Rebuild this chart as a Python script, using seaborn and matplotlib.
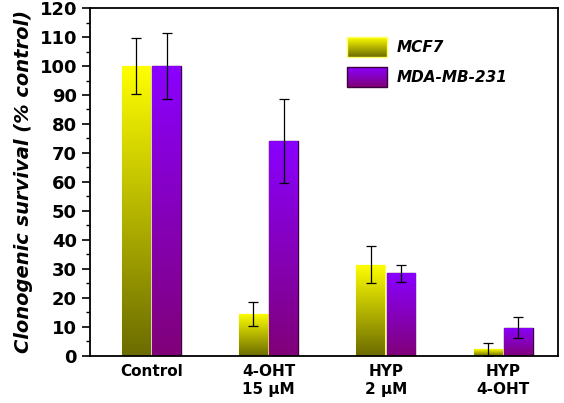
import numpy as np
import pandas as pd
import seaborn as sns
import matplotlib.pyplot as plt
from matplotlib.ticker import MultipleLocator
from matplotlib.colors import LinearSegmentedColormap

# data
groups = ['Control', '4-OHT\n15 \u03bcM', 'HYP\n2 \u03bcM', 'HYP\n4-OHT']
cells = ['MCF7', 'MDA-MB-231']
mcf7 = [100, 14.5, 31.5, 2.2]
mcf7_err = [9.7, 4.1, 6.5, 2.2]
mda = [100, 74, 28.5, 9.7]
mda_err = [11.5, 14.5, 3.0, 3.7]

df = pd.DataFrame({
    'group': groups * 2,
    'cell': [cells[0]] * 4 + [cells[1]] * 4,
    'val': mcf7 + mda,
})

sns.set_style('white')
plt.rcParams['font.family'] = ['DejaVu Sans']
plt.rcParams['font.weight'] = 'bold'
plt.rcParams['text.color'] = 'black'
plt.rcParams['axes.labelcolor'] = 'black'
plt.rcParams['xtick.color'] = 'black'
plt.rcParams['ytick.color'] = 'black'

fig = plt.figure(figsize=(5.64, 4.03), dpi=100)
ax = fig.add_axes([0.16, 0.117, 0.83, 0.863])

sns.barplot(data=df, x='group', y='val', hue='cell', hue_order=cells,
            palette=['#ffff00', '#8000ff'], width=0.52, gap=0.06,
            errorbar=None, ax=ax, legend=False)

# gradient fills (top bright -> bottom dark)
grads = [LinearSegmentedColormap.from_list('y', ['#6b6b00', '#ffff00']),
         LinearSegmentedColormap.from_list('p', ['#800078', '#8a00ff'])]
edges = ['#ffff60', '#3a003a']
grad = np.linspace(0, 1, 256).reshape(-1, 1)
errs = [mcf7_err, mda_err]
bar_conts = list(ax.containers)
for k, cont in enumerate(bar_conts):
    for j, p in enumerate(cont.patches):
        x0 = p.get_x()
        w, h = p.get_width(), p.get_height()
        p.set_edgecolor(edges[k])
        p.set_linewidth(1.0)
        im = ax.imshow(grad, cmap=grads[k], aspect='auto', origin='lower',
                       extent=[x0, x0 + w, 0, h], zorder=p.get_zorder())
        im.set_clip_path(p)
        ax.errorbar(x0 + w / 2, h, yerr=errs[k][j], fmt='none', ecolor='black',
                    elinewidth=0.9, capsize=3.5, capthick=0.9, zorder=5)

ax.set_xlim(-0.52, 3.47)
ax.set_ylim(0, 120)
ax.yaxis.set_major_locator(MultipleLocator(10))
ax.yaxis.set_minor_locator(MultipleLocator(5))
ax.tick_params(axis='y', which='major', left=True, length=6, width=1.2,
               labelsize=13, direction='out')
ax.tick_params(axis='y', which='minor', left=True, length=3, width=1)
ax.tick_params(axis='x', length=0, labelsize=11, pad=6)
for s in ax.spines.values():
    s.set_color('black')
    s.set_linewidth(1.3)
ax.set_xlabel('')
ax.set_ylabel('Clonogenic survival (% control)', fontsize=14,
              fontstyle='italic', fontweight='bold', labelpad=5)

# legend with small gradient swatches
for k, lab in enumerate(cells):
    ly = 0.859 - k * 0.086
    ax.imshow(grad, cmap=grads[k], aspect='auto', origin='lower',
              extent=[0.548, 0.635, ly, ly + 0.057], transform=ax.transAxes, zorder=6)
    ax.add_patch(plt.Rectangle((0.548, ly), 0.087, 0.057, transform=ax.transAxes,
                               fill=False, edgecolor=edges[k], lw=1, zorder=7))
    ax.text(0.655, ly + 0.028, lab, transform=ax.transAxes, va='center',
            fontsize=11, fontstyle='italic', fontweight='bold')
ax.set_xlim(-0.52, 3.47)
ax.set_ylim(0, 120)

fig.savefig('out.png', dpi=100)
